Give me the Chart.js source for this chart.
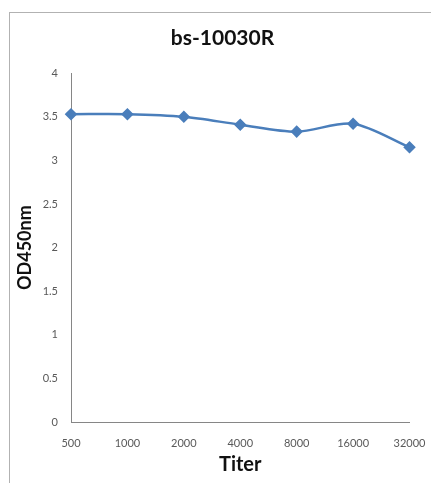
<!DOCTYPE html>
<html>
<head>
<meta charset="utf-8">
<script src="https://cdn.jsdelivr.net/npm/chart.js@4.4.1/dist/chart.umd.min.js"></script>
<style>
  html, body { margin: 0; padding: 0; background: #fff; }
  #wrap { position: relative; width: 431px; height: 483px; overflow: hidden; background: #fff; }
  /* frame of the original plot area, open to the right and bottom */
  #frame { position: absolute; left: 9px; top: 12px; width: 440px; height: 500px;
           border-left: 1.5px solid #b2b2b2; border-top: 1.5px solid #b2b2b2; }
  #chart { position: absolute; left: 0; top: 0; }
</style>
</head>
<body>
<div id="wrap">
  <div id="frame"></div>
  <canvas id="chart" width="431" height="483"></canvas>
</div>
<script>
// values
const titers = ["500", "1000", "2000", "4000", "8000", "16000", "32000"]
const od450 = [3.53, 3.53, 3.50, 3.41, 3.33, 3.42, 3.15]
const yTicks = [0, 0.5, 1, 1.5, 2, 2.5, 3, 3.5, 4]

const lineColor = "#4a7ebb"
const axisColor = "#868686"
const tickColor = "#595959"
const fontFamily = "Lato, 'Open Sans', sans-serif"

new Chart(document.getElementById("chart"), {
  type: "line",
  data: {
    labels: titers,
    datasets: [{
      label: "bs-10030R",
      data: od450,
      borderColor: lineColor,
      backgroundColor: lineColor,
      borderWidth: 2.5,
      tension: 0.3,
      pointStyle: "rectRot",
      pointRadius: 4.5,
      pointHoverRadius: 4.5,
      fill: false
    }]
  },
  options: {
    responsive: false,
    animation: false,
    // left padding is larger so the title sits a bit right of centre, as in the original
    layout: { padding: { left: 14, right: 0, top: 0, bottom: 0 } },
    plugins: {
      legend: { display: false },
      tooltip: { enabled: false },
      title: {
        display: true,
        text: "bs-10030R",
        color: "#111",
        font: { family: fontFamily, size: 21, weight: "bold", lineHeight: 1.2 },
        padding: { top: 26, bottom: 22 }
      }
    },
    scales: {
      x: {
        type: "category",
        offset: false,
        grid: { display: false, drawTicks: false },
        border: { display: true, color: axisColor, width: 1 },
        ticks: {
          color: tickColor,
          padding: 15,
          maxRotation: 0,
          autoSkip: false,
          font: { family: fontFamily, size: 11 }
        },
        title: {
          display: true,
          text: "Titer",
          color: "#111",
          font: { family: fontFamily, size: 20, weight: "bold", lineHeight: 1.2 },
          padding: { top: 0, bottom: 6 }
        },
        afterFit: scale => {
          scale.height = 61
          scale.paddingLeft = 0
          scale.paddingRight = 21.5
        }
      },
      y: {
        min: 0,
        max: 4,
        grid: { display: false, drawTicks: false },
        border: { display: true, color: axisColor, width: 1 },
        afterBuildTicks: scale => { scale.ticks = yTicks.map(v => ({ value: v })) },
        ticks: {
          color: tickColor,
          padding: 13,
          font: { family: fontFamily, size: 11 },
          callback: value => String(value)
        },
        title: {
          display: true,
          text: "OD450nm",
          color: "#111",
          font: { family: fontFamily, size: 18, weight: "bold", lineHeight: 1.2 },
          padding: { top: 0.5, bottom: 0 }
        },
        afterFit: scale => { scale.width = 57 }
      }
    }
  }
})
</script>
</body>
</html>
